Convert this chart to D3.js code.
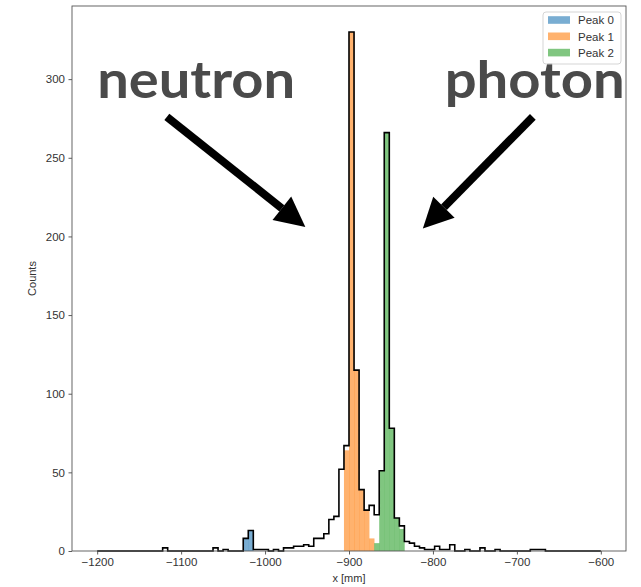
<!DOCTYPE html>
<html>
<head>
<meta charset="utf-8">
<script src="https://cdn.jsdelivr.net/npm/d3@7"></script>
<style>
  html, body { margin: 0; padding: 0; background: #fff; }
  svg { display: block; }
  .tick text { font-family: "Liberation Sans", Arial, sans-serif; font-size: 11.5px; fill: #333; }
</style>
</head>
<body>
<svg id="chart" width="641" height="587"></svg>
<script>
// Histogram binning along x (mm): 100 bins of 6 mm from -1200 to -600
const binStart = -1200;
const binWidth = 6;

// All events per bin (black step outline)
const totalCounts = [
  0, 0, 0, 0, 0, 0, 0, 0, 0, 0,
  0, 0, 0, 2, 0, 0, 0, 0, 0, 0,
  0, 0, 0, 2, 0, 1, 0, 0, 0, 8,
  13, 1, 1, 1, 0, 1, 0, 2, 2, 3,
  3, 4, 3, 8, 8, 11, 20, 22, 52, 67,
  330, 115, 39, 26, 29, 23, 51, 266, 78, 21,
  16, 6, 5, 3, 2, 1, 1, 3, 1, 1,
  4, 0, 0, 1, 0, 0, 2, 0, 0, 1,
  0, 0, 0, 0, 0, 0, 1, 1, 1, 0,
  0, 0, 0, 0, 0, 0, 0, 0, 0, 0
];

// Peak selections: first bin index and counts per bin
const peak0FirstBin = 29;
const peak0Counts = [8, 13];
const peak1FirstBin = 49;
const peak1Counts = [64, 330, 115, 39, 26, 8];
const peak2FirstBin = 55;
const peak2Counts = [5, 51, 266, 78, 21, 14];

const peakNames = ["Peak 0", "Peak 1", "Peak 2"];
const peakColors = ["#1f77b4", "#ff7f0e", "#2ca02c"];

const xTicks = [-1200, -1100, -1000, -900, -800, -700, -600];
const yTicks = [0, 50, 100, 150, 200, 250, 300];

// Annotation arrows (tail -> head) and labels, in data units
const arrowLabels = ["neutron", "photon"];
const arrowLabelX = [-1200, -786];
const arrowLabelY = [288, 288];
const arrowTail = [[-1117, 276], [-681, 276]];
const arrowHead = [[-952, 206], [-812, 205]];

const svg = d3.select("#chart");
const margin = { left: 72, right: 15, top: 6, bottom: 36 };
const W = 641, H = 587;

const x = d3.scaleLinear().domain([-1230, -570]).range([margin.left, W - margin.right]);
const y = d3.scaleLinear().domain([0, 346.5]).range([H - margin.bottom, margin.top]);

// Filled peak histograms
const peaks = [
  { first: peak0FirstBin, counts: peak0Counts },
  { first: peak1FirstBin, counts: peak1Counts },
  { first: peak2FirstBin, counts: peak2Counts }
];
peaks.forEach((p, k) => {
  svg.append("g")
    .selectAll("rect")
    .data(p.counts)
    .join("rect")
    .attr("x", (d, i) => x(binStart + (p.first + i) * binWidth))
    .attr("width", (d, i) => x(binStart + (p.first + i + 1) * binWidth) - x(binStart + (p.first + i) * binWidth) + 0.3)
    .attr("y", d => y(d))
    .attr("height", d => y(0) - y(d))
    .attr("fill", peakColors[k])
    .attr("fill-opacity", 0.6);
});

// Step outline of the full histogram
const stepPts = [[binStart, 0]];
totalCounts.forEach((c, i) => {
  stepPts.push([binStart + i * binWidth, c]);
  stepPts.push([binStart + (i + 1) * binWidth, c]);
});
stepPts.push([binStart + totalCounts.length * binWidth, 0]);

svg.append("path")
  .datum(stepPts)
  .attr("fill", "none")
  .attr("stroke", "#000")
  .attr("stroke-width", 1.6)
  .attr("stroke-linejoin", "miter")
  .attr("d", d3.line().x(d => x(d[0])).y(d => y(d[1])));

// Axes
const xAxis = svg.append("g")
  .attr("transform", `translate(0,${H - margin.bottom})`)
  .call(d3.axisBottom(x).tickValues(xTicks).tickSize(3.5).tickPadding(3)
    .tickFormat(d => "\u2212" + Math.abs(d)));
const yAxis = svg.append("g")
  .attr("transform", `translate(${margin.left},0)`)
  .call(d3.axisLeft(y).tickValues(yTicks).tickSize(3.5).tickPadding(3.5));
[xAxis, yAxis].forEach(g => {
  g.select(".domain").remove();
  g.selectAll(".tick line").attr("stroke", "#333").attr("stroke-width", 0.8);
});

// Plot frame
svg.append("rect")
  .attr("x", margin.left).attr("y", margin.top)
  .attr("width", W - margin.right - margin.left)
  .attr("height", H - margin.bottom - margin.top)
  .attr("fill", "none").attr("stroke", "#555").attr("stroke-width", 0.9);

// Axis labels
svg.append("text")
  .attr("x", (margin.left + W - margin.right) / 2).attr("y", 582)
  .attr("text-anchor", "middle")
  .attr("font-family", "Liberation Sans, Arial, sans-serif").attr("font-size", 11).attr("fill", "#333")
  .text("x [mm]");
svg.append("text")
  .attr("transform", `translate(36,${(margin.top + H - margin.bottom) / 2}) rotate(-90)`)
  .attr("text-anchor", "middle")
  .attr("font-family", "Liberation Sans, Arial, sans-serif").attr("font-size", 11).attr("fill", "#333")
  .text("Counts");

// Annotations
arrowLabels.forEach((label, k) => {
  svg.append("text")
    .attr("x", x(arrowLabelX[k])).attr("y", y(arrowLabelY[k]))
    .attr("font-family", "Lato, Noto Sans, sans-serif").attr("font-weight", 700)
    .attr("font-size", 52).attr("fill", "#4a4a4a")
    .attr("textLength", k === 0 ? 198 : 180).attr("lengthAdjust", "spacingAndGlyphs")
    .text(label);

  const x0 = x(arrowTail[k][0]), y0 = y(arrowTail[k][1]);
  const x1 = x(arrowHead[k][0]), y1 = y(arrowHead[k][1]);
  const ang = Math.atan2(y1 - y0, x1 - x0);
  const headLen = 30, headHalf = 15;
  const bx = x1 - headLen * Math.cos(ang), by = y1 - headLen * Math.sin(ang);
  svg.append("line")
    .attr("x1", x0).attr("y1", y0).attr("x2", bx).attr("y2", by)
    .attr("stroke", "#000").attr("stroke-width", 8);
  const px = -Math.sin(ang), py = Math.cos(ang);
  svg.append("path")
    .attr("d", `M${x1},${y1} L${bx + px * headHalf},${by + py * headHalf} L${bx - px * headHalf},${by - py * headHalf} Z`)
    .attr("fill", "#000");
});

// Legend (drawn last so it sits above everything else)
const leg = svg.append("g").attr("transform", "translate(543,12)");
leg.append("rect").attr("width", 78).attr("height", 52).attr("rx", 3)
  .attr("fill", "#fff").attr("fill-opacity", 0.8).attr("stroke", "#d0d0d0").attr("stroke-width", 0.9);
peakNames.forEach((name, k) => {
  const row = leg.append("g").attr("transform", `translate(0,${8 + k * 16.3})`);
  row.append("rect").attr("x", 5).attr("y", -3.8).attr("width", 22).attr("height", 7.6)
    .attr("fill", peakColors[k]).attr("fill-opacity", 0.6);
  row.append("text").attr("x", 35).attr("y", 4.2)
    .attr("font-family", "Liberation Sans, Arial, sans-serif").attr("font-size", 11.5).attr("fill", "#333")
    .text(name);
});
</script>
</body>
</html>
